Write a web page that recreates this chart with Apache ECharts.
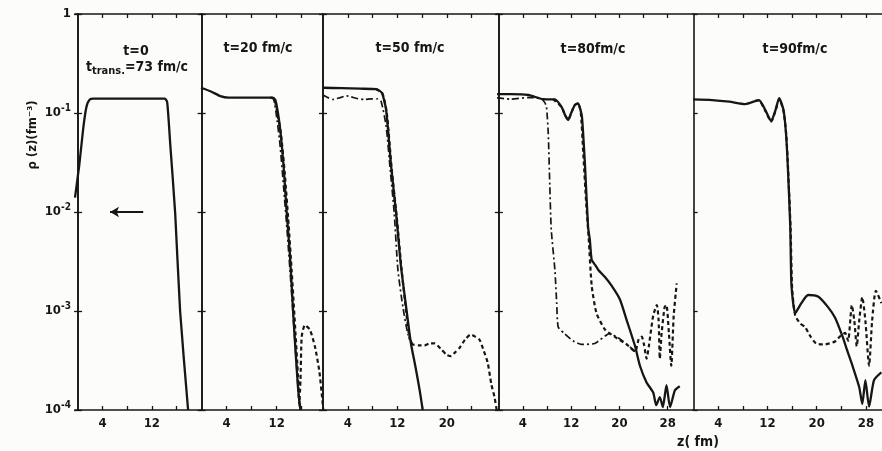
<!DOCTYPE html>
<html lang="en">
<head>
<meta charset="UTF-8">
<title>rho(z) profiles</title>
<style>
  html, body { margin: 0; padding: 0; background: #fcfcfa; }
  #main { width: 882px; height: 451px; }
</style>
</head>
<body>
<div id="main"></div>
<script src="https://cdn.jsdelivr.net/npm/echarts@6/dist/echarts.min.js"></script>
<script>
// panel texts
var panelTitles = ['t=0', 't=20 fm/c', 't=50 fm/c', 't=80fm/c', 't=90fm/c'];
// z range (fm) of each panel
var zRanges = [[-0.5, 20], [-0.1, 19.4], [0, 28.1], [-0.3, 32.2], [-0.1, 30.6]];
var zTicks = [[4, 8, 12, 16], [4, 8, 12, 16], [4, 8, 12, 16, 20, 24],
              [4, 8, 12, 16, 20, 24, 28], [4, 8, 12, 16, 20, 24, 28]];
var zLabels = [[4, 12], [4, 12], [4, 12, 20], [4, 12, 20, 28], [4, 12, 20, 28]];
var rhoRange = [1e-4, 1];

// arrow in the first panel
var arrowZ = [5.2, 10.6];
var arrowRho = 0.01;

// t = 0
var p1Solid = [[-0.5,0.014],[0.2,0.03],[0.9,0.075],[1.4,0.118],[1.9,0.137],[2.5,0.14],[8,0.14],
  [14.1,0.14],[14.5,0.128],[15.0,0.048],[15.8,0.0097],[16.6,0.001],[17.9,0.0001]];

// t = 20 fm/c
var p2Solid = [[-0.1,0.18],[1.5,0.165],[3,0.148],[4.3,0.143],[8,0.143],[11.3,0.143],[11.8,0.135],
  [12.2,0.1],[12.6,0.065],[13.1,0.029],[13.6,0.0098],[14.1,0.0038],[14.7,0.00081],[15.4,0.00017],[15.8,0.0001]];
var p2Dashed = [[11,0.143],[11.6,0.14],[12.1,0.1],[12.7,0.06],[13.3,0.024],[13.9,0.0075],[14.4,0.0025],
  [15.0,0.0006],[15.4,0.00022],[15.6,0.000115],[15.8,0.0002],[16.0,0.00055],[16.5,0.00072],[17.3,0.00065],
  [18.1,0.00044],[18.8,0.00025],[19.3,0.000126],[19.45,0.0001]];
var p2DashDot = [[11,0.143],[11.5,0.138],[11.9,0.1],[12.5,0.05],[13.1,0.018],[13.7,0.006],[14.3,0.0018],
  [14.9,0.0005],[15.5,0.00014],[15.7,0.0001]];

// t = 50 fm/c
var p3Solid = [[0,0.18],[3,0.178],[6,0.176],[8.6,0.174],[9.5,0.16],[10.2,0.107],[11.0,0.029],[11.8,0.0098],
  [12.6,0.0028],[13.7,0.00081],[14.2,0.00047],[14.9,0.00028],[15.6,0.00016],[16.1,0.0001]];
var p3Dashed = [[8.6,0.174],[9.6,0.158],[10.3,0.1],[11.1,0.027],[11.9,0.009],[12.7,0.0026],[13.5,0.0009],
  [14.0,0.00052],[14.5,0.00046],[15.5,0.00045],[16.4,0.00045],[17.2,0.00047],[18.0,0.00047],[19.1,0.00041],
  [20.0,0.00036],[20.7,0.00035],[21.3,0.00038],[22.0,0.00042],[23.0,0.00052],[23.9,0.00058],[24.6,0.00055],
  [25.3,0.00051],[26.0,0.00039],[26.6,0.0003],[27.2,0.00018],[27.7,0.000135],[28.05,0.0001]];
var p3DashDot = [[0,0.152],[0.8,0.143],[1.6,0.137],[2.8,0.143],[3.8,0.149],[4.5,0.146],[5.5,0.14],[6.7,0.137],
  [7.8,0.139],[8.8,0.139],[9.4,0.13],[10.2,0.073],[10.9,0.025],[11.5,0.0098],[12.1,0.0026],[12.9,0.0011],
  [13.7,0.00059],[14.4,0.00047]];

// t = 80 fm/c
var p4Solid = [[-0.3,0.155],[2,0.155],[4.9,0.152],[7.3,0.138],[9.3,0.137],[10.4,0.115],[11.0,0.095],[11.5,0.085],
  [12.0,0.1],[12.6,0.12],[13.15,0.125],[13.5,0.11],[13.8,0.09],[14.3,0.029],[14.8,0.0071],[15.1,0.0052],
  [15.4,0.0033],[16.0,0.0029],[16.5,0.0026],[17.6,0.0022],[18.7,0.0018],[20.1,0.0013],[21.2,0.00081],
  [22.6,0.00044],[23.4,0.00028],[24.5,0.00019],[25.6,0.00015],[26.1,0.000112],[26.7,0.000135],[27.2,0.000107],
  [27.8,0.000178],[28.4,0.000107],[29.2,0.000158],[30.0,0.000174]];
var p4Dashed = [[9,0.138],[10.4,0.115],[11.0,0.095],[11.5,0.085],[12.0,0.1],[12.6,0.12],[13.15,0.125],[13.6,0.1],
  [14.0,0.04],[14.5,0.012],[14.9,0.0055],[15.4,0.0018],[16.2,0.00095],[17.6,0.00065],[19.2,0.00055],[21.2,0.00046],
  [22.6,0.00039],[23.2,0.00052],[23.7,0.00055],[24.1,0.00045],[24.5,0.00033],[24.9,0.00045],[25.6,0.0009],
  [26.2,0.00115],[26.5,0.0008],[26.7,0.00033],[27.0,0.0006],[27.5,0.0011],[27.8,0.00115],[28.2,0.0006],
  [28.6,0.00028],[29.0,0.0009],[29.5,0.0019]];
var p4DashDot = [[-0.3,0.142],[2,0.138],[4.9,0.143],[7.0,0.14],[7.6,0.128],[7.9,0.116],[8.2,0.062],[8.45,0.019],
  [8.7,0.0066],[9.3,0.0026],[9.6,0.0012],[9.85,0.00069],[10.9,0.00059],[12.3,0.0005],[13.7,0.00046],
  [15.9,0.00047],[18.4,0.00059],[20.3,0.00051],[22.6,0.00039]];

// t = 90 fm/c
var p5Solid = [[-0.1,0.137],[3,0.135],[5.8,0.13],[8.4,0.123],[10.6,0.135],[11.65,0.107],[12.6,0.083],[13.3,0.107],
  [13.9,0.141],[14.6,0.107],[15.0,0.063],[15.3,0.029],[15.7,0.0071],[15.9,0.0018],[16.5,0.00095],[17.5,0.0012],
  [18.6,0.00145],[20.2,0.0014],[21.8,0.0011],[23.0,0.00085],[24.2,0.00055],[25.0,0.00039],[25.8,0.00028],
  [26.9,0.00017],[27.4,0.000115],[27.9,0.0002],[28.5,0.000108],[29.3,0.0002],[30.5,0.00024]];
var p5Dashed = [[10,0.133],[10.6,0.134],[11.65,0.105],[12.6,0.082],[13.3,0.105],[13.9,0.138],[14.6,0.105],
  [15.05,0.06],[15.35,0.027],[15.75,0.0068],[16.0,0.0017],[16.5,0.0009],[17.3,0.00075],[18.1,0.00069],
  [19.0,0.00055],[19.9,0.00047],[21.3,0.00046],[22.9,0.00049],[24.0,0.00057],[24.6,0.0006],[25.1,0.0005],
  [25.7,0.00115],[26.1,0.0008],[26.5,0.00044],[26.9,0.0008],[27.4,0.00138],[27.9,0.0008],[28.5,0.00028],
  [29.0,0.0008],[29.6,0.0016],[30.5,0.0012]];

var panelSeries = [
  { solid: p1Solid },
  { solid: p2Solid, dash: p2Dashed, dashDot: p2DashDot },
  { solid: p3Solid, dash: p3Dashed, dashDot: p3DashDot },
  { solid: p4Solid, dash: p4Dashed, dashDot: p4DashDot },
  { solid: p5Solid, dash: p5Dashed }
];

var gridLeft = [75, 201, 323, 497, 693];
var gridWidth = [126, 122, 174, 196, 191];
var ink = '#161616';
var labelFont = '"Liberation Sans Narrow", "DejaVu Sans Condensed", sans-serif';

var grids = [], xAxes = [], yAxes = [], series = [];

for (var i = 0; i < 5; i++) {
  grids.push({ left: gridLeft[i], width: gridWidth[i], top: 14, height: 396 });

  // bottom and top z axes
  xAxes.push({
    type: 'value', gridIndex: i, position: 'bottom',
    min: zRanges[i][0], max: zRanges[i][1],
    axisLine: { show: true, lineStyle: { color: ink, width: 1.6 } },
    axisTick: { show: true, inside: true, length: 4, customValues: zTicks[i], lineStyle: { color: ink, width: 1.3 } },
    axisLabel: { show: true, customValues: zLabels[i], margin: 7, color: ink,
                 fontFamily: labelFont, fontWeight: 'bold', fontSize: 13 },
    splitLine: { show: false }
  });
  xAxes.push({
    type: 'value', gridIndex: i, position: 'top',
    min: zRanges[i][0], max: zRanges[i][1],
    axisLine: { show: true, lineStyle: { color: ink, width: 1.6 } },
    axisTick: { show: true, inside: true, length: 4, customValues: zTicks[i], lineStyle: { color: ink, width: 1.3 } },
    axisLabel: { show: false },
    splitLine: { show: false }
  });

  // left and right rho axes (log)
  yAxes.push({
    type: 'log', logBase: 10, gridIndex: i, position: 'left',
    min: rhoRange[0], max: rhoRange[1],
    axisLine: { show: true, lineStyle: { color: ink, width: 1.6 } },
    axisTick: { show: true, inside: true, length: 4, lineStyle: { color: ink, width: 1.3 } },
    axisLabel: {
      show: i === 0, margin: 4, color: ink, fontFamily: labelFont, fontWeight: 'bold', fontSize: 13,
      formatter: function (v) {
        var e = Math.round(Math.log10(v));
        return e === 0 ? '1' : '10{e|-' + (-e) + '}';
      },
      rich: { e: { fontSize: 10, fontWeight: 'bold', fontFamily: labelFont, color: ink, padding: [0, 0, 9, 0] } }
    },
    splitLine: { show: false }
  });
  yAxes.push({
    type: 'log', logBase: 10, gridIndex: i, position: 'right',
    min: rhoRange[0], max: rhoRange[1],
    show: i < 4,
    axisLine: { show: true, lineStyle: { color: ink, width: 1.6 } },
    axisTick: { show: true, inside: true, length: 4, lineStyle: { color: ink, width: 1.3 } },
    axisLabel: { show: false },
    splitLine: { show: false }
  });

  var kinds = [['dashDot', [7, 3, 2, 3], 1.7], ['dash', [4, 3], 2.2], ['solid', 'solid', 2.3]];
  kinds.forEach(function (k) {
    var d = panelSeries[i][k[0]];
    if (!d) return;
    var s = {
      type: 'line', xAxisIndex: i * 2, yAxisIndex: i * 2, data: d,
      symbol: 'none', smooth: 0.2, silent: true, animation: false,
      lineStyle: { color: ink, width: k[2], type: k[1] },
      z: k[0] === 'solid' ? 4 : 3
    };
    if (i === 0 && k[0] === 'solid') {
      s.markLine = {
        silent: true, symbol: ['arrow', 'none'], symbolSize: [8, 9], animation: false,
        label: { show: false },
        lineStyle: { color: ink, width: 2, type: 'solid' },
        data: [[{ coord: [arrowZ[0], arrowRho] }, { coord: [arrowZ[1], arrowRho] }]]
      };
    }
    series.push(s);
  });
}

var titleX = [136, 258, 410, 593, 795];
var titleY = [51, 48, 48, 49, 49];
var graphics = panelTitles.map(function (t, i) {
  return {
    type: 'text', x: titleX[i], y: titleY[i], silent: true,
    style: { text: t, fill: ink, textAlign: 'center', textVerticalAlign: 'middle', align: 'center', verticalAlign: 'middle',
             font: 'bold 14px ' + labelFont }
  };
});
graphics.push({
  type: 'text', x: 137, y: 67, silent: true,
  style: {
    text: 't{s|trans.}=73 fm/c', fill: ink, textAlign: 'center', textVerticalAlign: 'middle', align: 'center', verticalAlign: 'middle',
    font: 'bold 14px ' + labelFont,
    rich: { s: { fontSize: 11, fontWeight: 'bold', fontFamily: labelFont, fill: ink, padding: [9, 0, 0, 0] } }
  }
});
graphics.push({
  type: 'text', x: 33, y: 135, rotation: Math.PI / 2, silent: true,
  style: { text: 'ρ (z)(fm⁻³)', fill: ink, textAlign: 'center', textVerticalAlign: 'middle', align: 'center', verticalAlign: 'middle',
           font: 'bold 13px ' + labelFont }
});
graphics.push({
  type: 'text', x: 698, y: 442, silent: true,
  style: { text: 'z( fm)', fill: ink, textAlign: 'center', textVerticalAlign: 'middle', align: 'center', verticalAlign: 'middle',
           font: 'bold 14px ' + labelFont }
});

var chart = echarts.init(document.getElementById('main'), null, { renderer: 'canvas' });
chart.setOption({
  backgroundColor: '#fcfcfa',
  animation: false,
  grid: grids,
  xAxis: xAxes,
  yAxis: yAxes,
  series: series,
  graphic: graphics
});
</script>
</body>
</html>
